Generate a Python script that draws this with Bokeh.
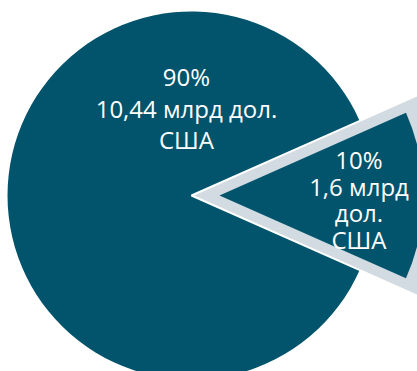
import math
from bokeh.plotting import figure
from bokeh.models import ColumnDataSource
from bokeh.core.properties import value
from bokeh.embed import file_html
from bokeh.resources import INLINE

# ---- data ----
categories = ["Прочие", "Сегмент"]
values = [10.44, 1.6]          # млрд дол. США
share_labels = ["90%", "10%"]
amount_lines = [["10,44 млрд дол.", "США"], ["1,6 млрд", "дол.", "США"]]

# ---- layout constants ----
W, H = 417, 371
CX, CY = 191, 176        # pie centre (data units == px)
R = 184
EXPLODE = 28
SMALL_R = 204
BORDER_R = 270
DARK = "#02546c"
GREY = "#d1dbe1"

total = sum(values)
half = math.pi * values[1] / total     # small slice centred on 0 rad

p = figure(width=W, height=H, x_range=(0, W), y_range=(0, H),
           output_backend="svg", toolbar_location=None, min_border=0)
p.axis.visible = False
p.grid.visible = False
p.outline_line_color = None
p.background_fill_color = "white"
p.border_fill_color = "white"

# big slice
p.wedge(x=[CX], y=[CY], radius=R, start_angle=[half], end_angle=[2 * math.pi - half],
        fill_color=DARK, line_color=None)
# grey frame of the exploded slice
p.wedge(x=[CX], y=[CY], radius=BORDER_R, start_angle=[-half], end_angle=[half],
        fill_color=GREY, line_color="white", line_width=2)
# exploded small slice
p.wedge(x=[CX + EXPLODE], y=[CY], radius=SMALL_R, start_angle=[-half], end_angle=[half],
        fill_color=DARK, line_color=None)

# labels
big_lines = [share_labels[0]] + amount_lines[0]
small_lines = [share_labels[1]] + amount_lines[1]
lx, ly, lt = [], [], []
for i, t in enumerate(big_lines):
    lx.append(CX - 5); ly.append(CY + 119 - i * 31.6); lt.append(t)
for i, t in enumerate(small_lines):
    lx.append(CX + 167.5); ly.append(CY + 36 - i * 26.7); lt.append(t)
src = ColumnDataSource(dict(x=lx, y=ly, text=lt))
p.text(x="x", y="y", text="text", source=src, text_align="center",
       text_baseline="alphabetic", text_font=value("Open Sans"),
       text_font_size="24px", text_color="white")

open("out.html", "w").write(file_html(p, INLINE))
